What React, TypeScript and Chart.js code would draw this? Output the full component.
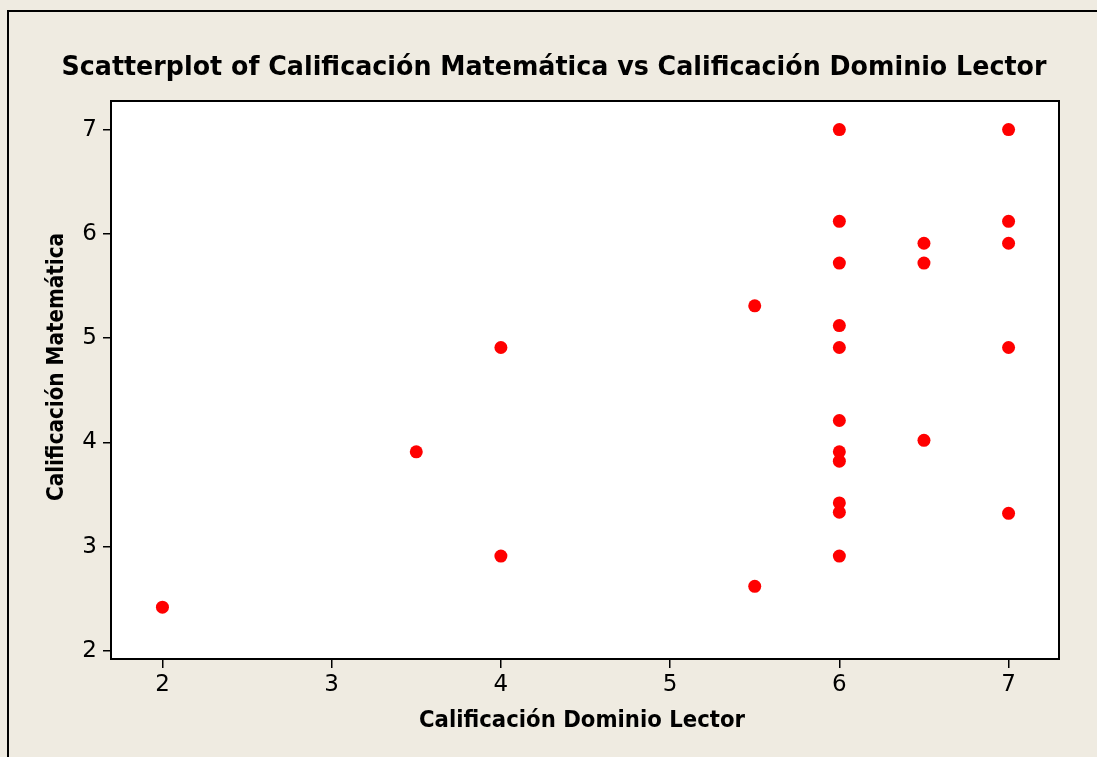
import React, { useEffect, useRef } from "react";
import { Chart, registerables } from "chart.js";

Chart.register(...registerables);

const xValues = [2, 3.5, 4, 4, 5.5, 5.5, 6, 6, 6, 6, 6, 6, 6, 6, 6, 6, 6, 6.5, 6.5, 6.5, 7, 7, 7, 7, 7];
const yValues = [2.42, 3.91, 4.91, 2.91, 5.31, 2.62, 7.0, 6.12, 5.72, 5.12, 4.91, 4.21, 3.91, 3.82, 3.42, 3.33, 2.91, 5.91, 5.72, 4.02, 7.0, 6.12, 5.91, 4.91, 3.32];
const xTicks = [2, 3, 4, 5, 6, 7];
const yTicks = [2, 3, 4, 5, 6, 7];
const chartTitle = "Scatterplot of Calificación Matemática vs Calificación Dominio Lector";
const xTitle = "Calificación Dominio Lector";
const yTitle = "Calificación Matemática";

const BG = "#EFEBE1";
const FONT = "'DejaVu Sans', Verdana, sans-serif";

function drawFitted(ctx: CanvasRenderingContext2D, text: string, cx: number, baseY: number, size: number, targetW: number, rotate: boolean) {
  ctx.save();
  ctx.font = `bold ${size}px ${FONT}`;
  ctx.fillStyle = "#000";
  ctx.textAlign = "center";
  ctx.textBaseline = "alphabetic";
  const w = ctx.measureText(text).width;
  const sx = Math.min(1, targetW / w);
  ctx.translate(cx, baseY);
  if (rotate) ctx.rotate(-Math.PI / 2);
  ctx.scale(sx, 1);
  ctx.fillText(text, 0, 0);
  ctx.restore();
}

const decorPlugin = {
  id: "decor",
  beforeDraw(chart: any) {
    const { ctx, chartArea } = chart;
    ctx.save();
    ctx.fillStyle = BG;
    ctx.fillRect(0, 0, chart.width, chart.height);
    ctx.fillStyle = "#FFFFFF";
    ctx.fillRect(chartArea.left, chartArea.top, chartArea.right - chartArea.left, chartArea.bottom - chartArea.top);
    ctx.restore();
  },
  afterDraw(chart: any) {
    const { ctx, chartArea } = chart;
    ctx.save();
    ctx.strokeStyle = "#000";
    ctx.lineWidth = 2;
    ctx.strokeRect(chartArea.left, chartArea.top, chartArea.right - chartArea.left, chartArea.bottom - chartArea.top);
    // outer frame
    ctx.beginPath();
    ctx.moveTo(8, chart.height);
    ctx.lineTo(8, 11);
    ctx.lineTo(chart.width, 11);
    ctx.stroke();
    ctx.restore();
    drawFitted(ctx, chartTitle, 554, 75, 27, 985, false);
    drawFitted(ctx, xTitle, 582, 727, 23, 326, false);
    drawFitted(ctx, yTitle, 63, 367, 23, 268, true);
  },
};

export default function App() {
  const ref = useRef<HTMLCanvasElement | null>(null);
  useEffect(() => {
    if (!ref.current) return;
    const points = xValues.map((x, i) => ({ x, y: yValues[i] }));
    const chart = new Chart(ref.current, {
      type: "scatter",
      data: {
        datasets: [
          {
            data: points,
            backgroundColor: "#FF0000",
            borderColor: "#FF0000",
            borderWidth: 0,
            pointRadius: 6.5,
            pointHoverRadius: 6.5,
          },
        ],
      },
      options: {
        responsive: false,
        animation: false,
        events: [],
        layout: { padding: { top: 101, right: 38, left: 0, bottom: 0 } },
        plugins: { legend: { display: false }, tooltip: { enabled: false }, title: { display: false } },
        scales: {
          x: {
            type: "linear",
            min: 1.696,
            max: 7.298,
            afterBuildTicks: (s: any) => {
              s.ticks = xTicks.map((v) => ({ value: v }));
            },
            afterFit: (s: any) => {
              s.height = 98;
            },
            border: { display: false },
            grid: { drawOnChartArea: false, drawTicks: true, tickLength: 9, color: "#000", lineWidth: 1.5 },
            ticks: { color: "#000", font: { family: FONT, size: 23 }, padding: 3, maxRotation: 0 },
          },
          y: {
            type: "linear",
            min: 1.923,
            max: 7.274,
            afterBuildTicks: (s: any) => {
              s.ticks = yTicks.map((v) => ({ value: v }));
            },
            afterFit: (s: any) => {
              s.width = 111;
            },
            border: { display: false },
            grid: { drawOnChartArea: false, drawTicks: true, tickLength: 8, color: "#000", lineWidth: 1.5 },
            ticks: { color: "#000", font: { family: FONT, size: 23 }, padding: 6 },
          },
        },
      },
      plugins: [decorPlugin],
    });
    return () => chart.destroy();
  }, []);
  return (
    <div style={{ position: "fixed", left: 0, top: 0, width: 1097, height: 757, background: BG }}>
      <canvas ref={ref} width={1097} height={757} style={{ width: 1097, height: 757, display: "block" }} />
    </div>
  );
}
